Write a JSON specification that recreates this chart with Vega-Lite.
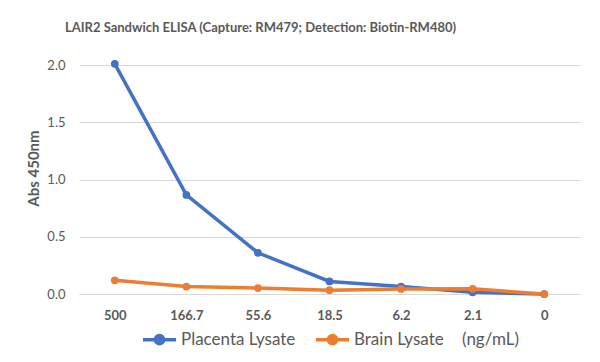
{
  "$schema": "https://vega.github.io/schema/vega-lite/v6.json",
  "width": 501,
  "height": 229,
  "autosize": {"type": "none"},
  "padding": {"left": 79, "top": 65, "right": 20, "bottom": 68},
  "background": "white",
  "title": {
    "text": "LAIR2 Sandwich ELISA (Capture: RM479; Detection: Biotin-RM480)",
    "anchor": "middle",
    "frame": "group",
    "dx": -69,
    "offset": 22,
    "font": "Lato",
    "fontSize": 13,
    "fontWeight": "bold",
    "color": "#595959"
  },
  "config": {
    "view": {"stroke": null},
    "font": "Lato"
  },
  "data": {
    "values": [
      {"conc": "500", "series": "Placenta Lysate", "abs": 2.01},
      {"conc": "166.7", "series": "Placenta Lysate", "abs": 0.865},
      {"conc": "55.6", "series": "Placenta Lysate", "abs": 0.36},
      {"conc": "18.5", "series": "Placenta Lysate", "abs": 0.11},
      {"conc": "6.2", "series": "Placenta Lysate", "abs": 0.065},
      {"conc": "2.1", "series": "Placenta Lysate", "abs": 0.015},
      {"conc": "0", "series": "Placenta Lysate", "abs": 0.0},
      {"conc": "500", "series": "Brain Lysate", "abs": 0.12},
      {"conc": "166.7", "series": "Brain Lysate", "abs": 0.065},
      {"conc": "55.6", "series": "Brain Lysate", "abs": 0.052},
      {"conc": "18.5", "series": "Brain Lysate", "abs": 0.033},
      {"conc": "6.2", "series": "Brain Lysate", "abs": 0.044},
      {"conc": "2.1", "series": "Brain Lysate", "abs": 0.045},
      {"conc": "0", "series": "Brain Lysate", "abs": 0.0}
    ]
  },
  "mark": {"type": "line", "strokeWidth": 3.5, "point": {"size": 60, "filled": true}},
  "encoding": {
    "x": {
      "field": "conc",
      "type": "ordinal",
      "sort": null,
      "scale": {"type": "point", "padding": 0.5},
      "axis": {
        "title": "(ng/mL)",
        "titleX": 411,
        "titleY": 45,
        "titleAnchor": "middle",
        "titleBaseline": "middle",
        "titleFont": "Lato",
        "titleFontSize": 17,
        "titleFontWeight": "normal",
        "titleColor": "#595959",
        "labelAngle": 0,
        "labelFont": "Lato",
        "labelFontSize": 13,
        "labelFontWeight": "bold",
        "labelColor": "#595959",
        "labelPadding": 15,
        "ticks": false,
        "domainColor": "#D9D9D9",
        "domainWidth": 1
      }
    },
    "y": {
      "field": "abs",
      "type": "quantitative",
      "scale": {"domain": [0, 2.0], "nice": false},
      "axis": {
        "title": "Abs 450nm",
        "values": [0, 0.5, 1.0, 1.5, 2.0],
        "format": ".1f",
        "titleFont": "Lato",
        "titleFontSize": 15,
        "titleFontWeight": "bold",
        "titleColor": "#595959",
        "titleX": -46,
        "titleY": 103,
        "titleAnchor": "middle",
        "titleBaseline": "middle",
        "labelFont": "Lato",
        "labelFontSize": 13,
        "labelColor": "#595959",
        "labelPadding": 14,
        "ticks": false,
        "domain": false,
        "gridColor": "#D9D9D9",
        "gridWidth": 1
      }
    },
    "color": {
      "field": "series",
      "type": "nominal",
      "sort": ["Placenta Lysate", "Brain Lysate"],
      "scale": {"domain": ["Placenta Lysate", "Brain Lysate"], "range": ["#4472C4", "#ED7D31"]},
      "legend": {
        "title": null,
        "orient": "none",
        "direction": "horizontal",
        "legendX": 62,
        "legendY": 256,
        "labelFont": "Lato",
        "labelFontSize": 17,
        "labelColor": "#595959",
        "symbolType": "M -1 0 L 1 0 M 0.25 0 A 0.25 0.25 0 1 1 -0.25 0 A 0.25 0.25 0 1 1 0.25 0",
        "symbolSize": 1100,
        "symbolStrokeWidth": 3.5,
        "labelOffset": 3,
        "columnPadding": 12
      }
    }
  }
}
